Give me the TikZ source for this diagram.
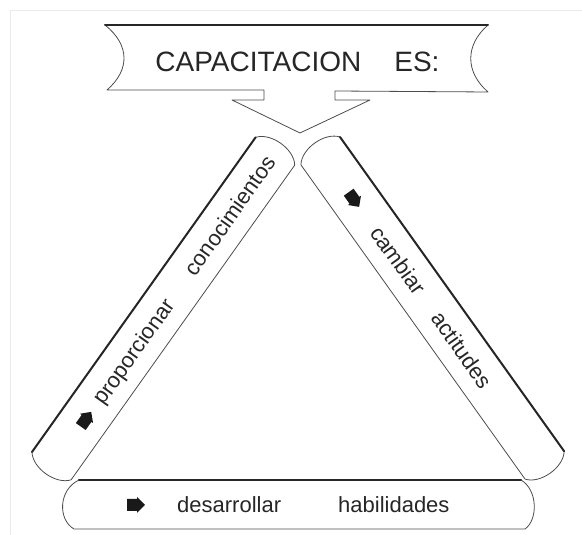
\documentclass[tikz,border=0pt]{standalone}
\usepackage{fontspec}
\setmainfont{Liberation Sans}
\usepackage{tikz}

\begin{document}
\begin{tikzpicture}[x=1pt, y=1pt,
    outline/.style={draw=black!70, line width=0.8pt, line join=round},
    shadowline/.style={draw=black!85, line width=2pt, line cap=round},
    barlabel/.style={font=\fontsize{22}{26}\selectfont, text=black!85, inner sep=0pt, anchor=base west},
    bullet/.style={fill=black!90, draw=none}]
    \useasboundingbox (0,0) rectangle (582,535);

    % faint page frame
    \draw[black!8, line width=0.8pt] (10,0) -- (10,525) -- (582,525);

    % bar sizes
    \def\barw{48}
    \def\barl{386}
    \def\bulge{13}

    % Banner with its arrow
    \draw[outline] (105,510) -- (488,510)
        .. controls (465,490) and (465,463) .. (488,443)
        -- (335,444) -- (335,435) -- (370,435) -- (300,402) -- (232,435) -- (264,435) -- (264,445) -- (107,445)
        .. controls (130,465) and (130,490) .. (105,510);
    \draw[shadowline] (105,510) -- (488,510);
    \node[font=\fontsize{28}{32}\selectfont, text=black!85, anchor=base, inner sep=0pt] (title) at (297.5,463) {CAPACITACION\hspace*{33pt}ES:};

    % Left bar (reads upwards)
    \begin{scope}[shift={(32,83)}, rotate=54.6, transform shape]
        \draw[outline] (0,0) -- (\barl,0)
            .. controls (\barl+\bulge,-0.2*\barw) and (\barl+\bulge,-0.8*\barw) .. (\barl,-\barw)
            -- (0,-\barw)
            .. controls (-\bulge,-0.8*\barw) and (-\bulge,-0.2*\barw) .. (0,0);
        \draw[shadowline] (0,0) -- (\barl,0);
        \fill[bullet] (58,-25) ++(-9,-6) -- ++(10,0) -- ++(0,-2) -- ++(8,8) -- ++(-8,8) -- ++(0,-2) -- ++(-10,0) -- cycle;
        \node[barlabel] (prop) at (79,-32) {proporcionar};
        \node[barlabel] (cono) at (237,-32) {conocimientos};
    \end{scope}

    % Right bar (reads downwards)
    \begin{scope}[shift={(340,398)}, rotate=-54.5, transform shape]
        \draw[outline] (0,0) -- (\barl,0)
            .. controls (\barl+\bulge,-0.2*\barw) and (\barl+\bulge,-0.8*\barw) .. (\barl,-\barw)
            -- (0,-\barw)
            .. controls (-\bulge,-0.8*\barw) and (-\bulge,-0.2*\barw) .. (0,0);
        \draw[shadowline] (0,0) -- (\barl,0);
        \fill[bullet] (59,-25) ++(-9,-6) -- ++(10,0) -- ++(0,-2) -- ++(8,8) -- ++(-8,8) -- ++(0,-2) -- ++(-10,0) -- cycle;
        \node[barlabel] (camb) at (95,-32) {cambiar};
        \node[barlabel] (acti) at (200,-32) {actitudes};
    \end{scope}

    % Bottom bar
    \draw[outline] (79,55) -- (521,55)
        .. controls (538,45) and (538,15) .. (525,6)
        -- (74,6)
        .. controls (58,15) and (58,45) .. (79,55);
    \draw[shadowline] (79,55) -- (521,55);
    \fill[bullet] (136,30) ++(-9,-6) -- ++(10,0) -- ++(0,-2) -- ++(8,8) -- ++(-8,8) -- ++(0,-2) -- ++(-10,0) -- cycle;
    \node[barlabel] (desa) at (177,22) {desarrollar};
    \node[barlabel] (habi) at (338,22) {habilidades};
\end{tikzpicture}
\end{document}
